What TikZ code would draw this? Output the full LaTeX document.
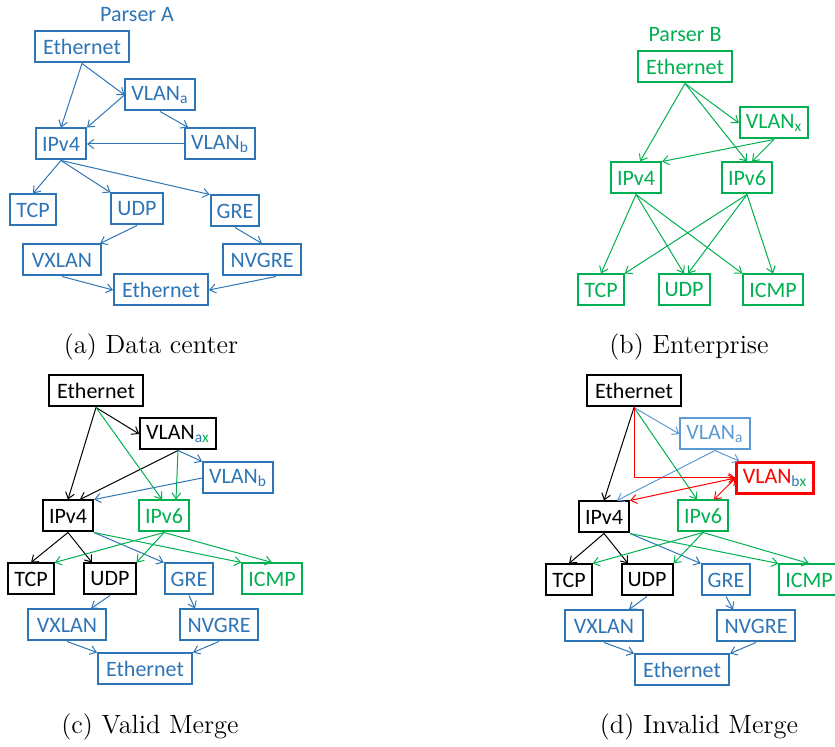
\documentclass[tikz,border=0pt]{standalone}
\usepackage{fontspec}
\usepackage{xcolor}
\usepackage{tikz}
\usetikzlibrary{arrows.meta, positioning, calc}
\newfontfamily\boxfont{Carlito}
\definecolor{pblue}{RGB}{46,117,182}
\definecolor{plight}{RGB}{91,155,213}
\definecolor{pgreen}{RGB}{0,176,80}
\definecolor{pred}{RGB}{255,0,0}
\tikzset{
    hdr/.style={
        rectangle,
        line width=1pt,
        draw,
        fill=white,
        minimum height=15.5pt,
        inner xsep=3pt,
        inner ysep=0pt,
        font=\boxfont\fontsize{11}{13}\selectfont,
    },
    blu/.style={draw=pblue, text=pblue},
    lblu/.style={draw=plight, text=plight},
    grn/.style={draw=pgreen, text=pgreen},
    blk/.style={draw=black, text=black},
    rd/.style={draw=pred, text=pred, line width=1.3pt},
    ethbox/.style={minimum width=47pt},
    tunbox/.style={minimum width=39pt},
    parsertitle/.style={font=\boxfont\fontsize{11}{13}\selectfont},
    captxt/.style={font=\fontsize{13.2}{16}\selectfont},
    link/.style={line width=0.5pt},
}

\begin{document}
\begin{tikzpicture}[x=0.5pt, y=-0.5pt, >={Straight Barb[length=3pt, width=4.5pt]}]
      \useasboundingbox (0,0) rectangle (835,747);

      % (a) Data center
      \node [parsertitle, pblue] (aTitle) at (137,15) {Parser A};
      \node [hdr, blu, ethbox] (aEth) at (82,47) {Ethernet};
      \node [hdr, blu] (aVla) at (160,95) {VLAN\textsubscript{a}};
      \node [hdr, blu] (aIp4) at (61,144) {IPv4};
      \node [hdr, blu] (aVlb) at (220,144) {VLAN\textsubscript{b}};
      \node [hdr, blu] (aTcp) at (33,210) {TCP};
      \node [hdr, blu] (aUdp) at (137,209) {UDP};
      \node [hdr, blu] (aGre) at (235,211) {GRE};
      \node [hdr, blu, tunbox] (aVxl) at (62,260) {VXLAN};
      \node [hdr, blu, tunbox] (aNvg) at (262,260) {NVGRE};
      \node [hdr, blu, ethbox] (aEth2) at (161,290) {Ethernet};

      \path[->, link, pblue] (aEth.south) edge (aIp4.north);
      \path[->, link, pblue] (aEth.south) edge (aVla.west);
      \path[->, link, pblue] (aVla.west) edge (aIp4.north east);
      \path[->, link, pblue] (aVla.south) edge ([xshift=2pt]aVlb.north west);
      \path[->, link, pblue] (aVlb.west) edge (aIp4.east);
      \path[->, link, pblue] (aIp4.south) edge (aTcp.north);
      \path[->, link, pblue] (aIp4.south) edge (aUdp.north west);
      \path[->, link, pblue] (aIp4.south) edge (aGre.north west);
      \path[->, link, pblue] (aUdp.south) edge ([xshift=-1pt]aVxl.north east);
      \path[->, link, pblue] (aGre.south) edge (aNvg.north);
      \path[->, link, pblue] (aVxl.south) edge (aEth2.west);
      \path[->, link, pblue] ([xshift=7pt]aNvg.south) edge (aEth2.east);

      % (b) Enterprise
      \node [parsertitle, pgreen] (bTitle) at (685,35) {Parser B};
      \node [hdr, grn, ethbox] (bEth) at (685,67) {Ethernet};
      \node [hdr, grn] (bVlx) at (774,123) {VLAN\textsubscript{x}};
      \node [hdr, grn] (bIp4) at (636,178) {IPv4};
      \node [hdr, grn] (bIp6) at (747,178) {IPv6};
      \node [hdr, grn] (bTcp) at (601,290) {TCP};
      \node [hdr, grn] (bUdp) at (684,290) {UDP};
      \node [hdr, grn] (bIcm) at (773,290) {ICMP};

      \path[->, link, pgreen] (bEth.south) edge ([xshift=2pt]bIp4.north);
      \path[->, link, pgreen] (bEth.south) edge (bVlx.west);
      \path[->, link, pgreen] (bEth.south) edge (bIp6.north);
      \path[->, link, pgreen] (bVlx.south) edge (bIp4.north east);
      \path[->, link, pgreen] (bVlx.south) edge ([xshift=2.5pt]bIp6.north);
      \path[->, link, pgreen] (bIp4.south) edge (bTcp.north);
      \path[->, link, pgreen] (bIp4.south) edge (bUdp.north);
      \path[->, link, pgreen] (bIp4.south) edge (bIcm.north west);
      \path[->, link, pgreen] (bIp6.south) edge (bTcp.north east);
      \path[->, link, pgreen] (bIp6.south) edge ([xshift=2pt]bUdp.north);
      \path[->, link, pgreen] (bIp6.south) edge (bIcm.north);

      % (c) Valid Merge
      \node [hdr, blk, ethbox] (cEth) at (96,391) {Ethernet};
      \node [hdr, blk] (cVax) at (178,434) {VLAN\textsubscript{\textcolor{pblue}{a}\textcolor{pgreen}{x}}};
      \node [hdr, blu] (cVlb) at (238,478) {VLAN\textsubscript{b}};
      \node [hdr, blk] (cIp4) at (68,516) {IPv4};
      \node [hdr, grn] (cIp6) at (164,516) {IPv6};
      \node [hdr, blk] (cTcp) at (31,579) {TCP};
      \node [hdr, blk] (cUdp) at (110,579) {UDP};
      \node [hdr, blu] (cGre) at (189,579) {GRE};
      \node [hdr, grn] (cIcm) at (272,579) {ICMP};
      \node [hdr, blu, tunbox] (cVxl) at (67,625) {VXLAN};
      \node [hdr, blu, tunbox] (cNvg) at (219,625) {NVGRE};
      \node [hdr, blu, ethbox] (cEth2) at (145,669) {Ethernet};

      \path[->, link, black] (cEth.south) edge (cIp4.north);
      \path[->, link, black] (cEth.south) edge (cVax.west);
      \path[->, link, black] (cVax.south) edge ([xshift=6pt]cIp4.north);
      \path[->, link, pgreen] (cEth.south) edge ([xshift=-1pt]cIp6.north);
      \path[->, link, pgreen] (cVax.south) edge ([xshift=6pt]cIp6.north);
      \path[->, link, pblue] (cVax.south) edge (cVlb.north west);
      \path[->, link, pblue] (cVlb.west) edge (cIp4.north east);
      \path[->, link, black] (cIp4.south) edge (cTcp.north);
      \path[->, link, black] (cIp4.south) edge ([xshift=-9pt]cUdp.north);
      \path[->, link, pblue] (cIp4.south east) edge (cGre.north west);
      \path[->, link, pgreen] (cIp4.south east) edge (cIcm.north west);
      \path[->, link, pgreen] (cIp6.south) edge (cTcp.north east);
      \path[->, link, pgreen] (cIp6.south) edge (cUdp.north east);
      \path[->, link, pgreen] (cIp6.south) edge (cIcm.north);
      \path[->, link, pblue] (cUdp.south) edge ([xshift=12pt]cVxl.north);
      \path[->, link, pblue] (cGre.south) edge ([xshift=-12pt]cNvg.north);
      \path[->, link, pblue] (cVxl.south) edge (cEth2.north west);
      \path[->, link, pblue] (cNvg.south) edge (cEth2.north east);

      % (d) Invalid Merge
      \node [hdr, blk, ethbox] (dEth) at (634,391) {Ethernet};
      \node [hdr, lblu] (dVla) at (715,434) {VLAN\textsubscript{a}};
      \node [hdr, rd] (dVlb) at (775,478) {VLAN\textsubscript{\textcolor{pblue}{b}\textcolor{pgreen}{x}}};
      \node [hdr, blk] (dIp4) at (604,517) {IPv4};
      \node [hdr, grn] (dIp6) at (703,516) {IPv6};
      \node [hdr, blk] (dTcp) at (569,580) {TCP};
      \node [hdr, blk] (dUdp) at (647,580) {UDP};
      \node [hdr, blu] (dGre) at (726,580) {GRE};
      \node [hdr, grn] (dIcm) at (809,580) {ICMP};
      \node [hdr, blu, tunbox] (dVxl) at (604,626) {VXLAN};
      \node [hdr, blu, tunbox] (dNvg) at (756,626) {NVGRE};
      \node [hdr, blu, ethbox] (dEth2) at (682,670) {Ethernet};

      \path[->, link, black] (dEth.south) edge (dIp4.north);
      \path[->, link, plight] (dEth.south) edge (dVla.west);
      \path[->, link, plight] (dVla.south) edge ([xshift=2pt]dVlb.north west);
      \path[->, link, plight] (dVla.south) edge ([xshift=6.5pt]dIp4.north);
      \path[->, link, pgreen] (dEth.south) edge ([xshift=-3pt]dIp6.north);
      \draw[->, link, pred] (dEth.south) |- (dVlb.west);
      \path[<->, link, pred] (dIp4.north east) edge (dVlb.west);
      \path[<->, link, pred] ([xshift=5.5pt]dIp6.north) edge (dVlb.west);
      \path[->, link, black] (dIp4.south) edge (dTcp.north);
      \path[->, link, black] (dIp4.south) edge ([xshift=-9.5pt]dUdp.north);
      \path[->, link, pblue] (dIp4.south east) edge (dGre.north west);
      \path[->, link, pgreen] (dIp4.south east) edge (dIcm.north west);
      \path[->, link, pgreen] (dIp6.south) edge (dTcp.north east);
      \path[->, link, pgreen] (dIp6.south) edge (dUdp.north east);
      \path[->, link, pgreen] (dIp6.south) edge (dIcm.north);
      \path[->, link, pblue] (dUdp.south) edge ([xshift=12.5pt]dVxl.north);
      \path[->, link, pblue] (dGre.south) edge ([xshift=-11.5pt]dNvg.north);
      \path[->, link, pblue] (dVxl.south) edge (dEth2.north west);
      \path[->, link, pblue] (dNvg.south) edge (dEth2.north east);

      % captions
      \node [captxt] (capA) at (151,347) {(a) Data center};
      \node [captxt] (capB) at (689,347) {(b) Enterprise};
      \node [captxt] (capC) at (150,727) {(c) Valid Merge};
      \node [captxt] (capD) at (699,727) {(d) Invalid Merge};
\end{tikzpicture}
\end{document}
